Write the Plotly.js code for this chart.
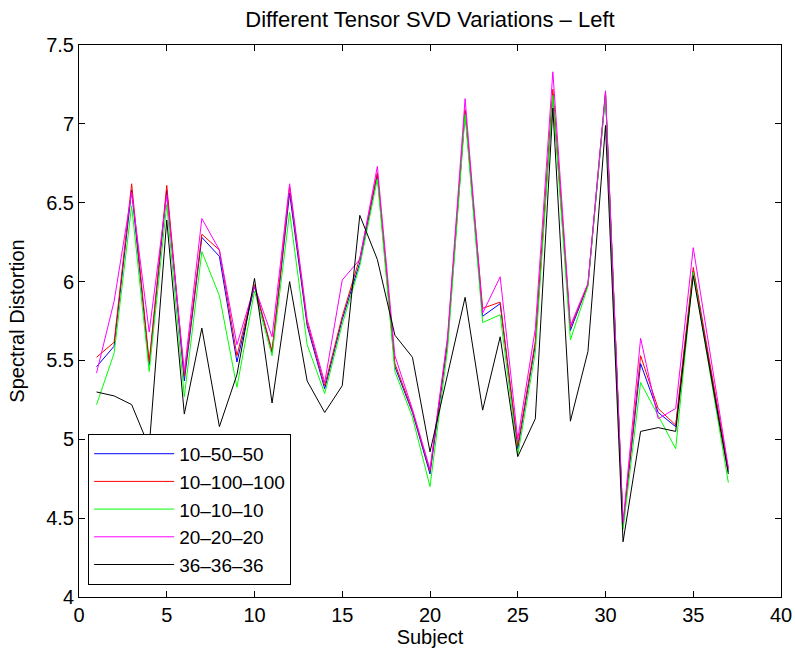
<!DOCTYPE html>
<html>
<head>
<meta charset="utf-8">
<script src="https://cdn.plot.ly/plotly-3.0.1.min.js"></script>
<style>html,body{margin:0;padding:0;background:#fff;}#chart{width:795px;height:655px;}</style>
</head>
<body>
<div id="chart"></div>
<script>
const subjects = [1,2,3,4,5,6,7,8,9,10,11,12,13,14,15,16,17,18,19,20,21,22,23,24,25,26,27,28,29,30,31,32,33,34,35,36,37];

const s10_50_50 = [5.46,5.59,6.58,5.47,6.58,5.37,6.28,6.16,5.49,5.97,5.55,6.56,5.72,5.32,5.76,6.12,6.68,5.46,5.17,4.78,5.61,7.08,5.78,5.86,4.94,5.60,7.19,5.69,5.98,7.19,4.45,5.48,5.17,5.08,6.065,5.43,4.795];
const s10_100_100 = [5.52,5.615,6.62,5.49,6.61,5.40,6.30,6.20,5.53,5.98,5.56,6.60,5.74,5.34,5.78,6.15,6.69,5.48,5.18,4.80,5.63,7.09,5.83,5.87,4.96,5.62,7.22,5.71,5.98,7.20,4.46,5.53,5.195,5.09,6.09,5.45,4.81];
const s10_10_10 = [5.22,5.545,6.48,5.43,6.49,5.27,6.19,5.91,5.33,5.94,5.53,6.44,5.60,5.29,5.73,6.10,6.65,5.43,5.14,4.70,5.57,7.06,5.74,5.79,4.90,5.55,7.18,5.63,5.97,7.18,4.43,5.36,5.15,4.94,6.06,5.39,4.725];
const s20_20_20 = [5.42,5.875,6.565,5.68,6.55,5.43,6.40,6.20,5.60,5.97,5.65,6.62,5.76,5.36,6.01,6.14,6.73,5.53,5.19,4.81,5.65,7.16,5.80,6.03,5.00,5.70,7.33,5.72,5.99,7.21,4.47,5.64,5.13,5.195,6.215,5.52,4.82];
const s36_36_36 = [5.30,5.275,5.22,4.95,6.39,5.16,5.705,5.08,5.41,6.02,5.23,6.00,5.37,5.17,5.34,6.42,6.14,5.66,5.52,4.92,5.41,5.90,5.185,5.65,4.89,5.13,7.10,5.115,5.557,6.99,4.35,5.05,5.074,5.05,6.037,5.41,4.78];

const seriesNames = ['10\u201350\u201350','10\u2013100\u2013100','10\u201310\u201310','20\u201320\u201320','36\u201336\u201336'];
const seriesData = [s10_50_50, s10_100_100, s10_10_10, s20_20_20, s36_36_36];
const seriesColors = ['#0000ff','#ff0000','#00ff00','#ff00ff','#000000'];

const traces = seriesData.map((ys, i) => ({
  x: subjects,
  y: ys,
  type: 'scatter',
  mode: 'lines',
  name: seriesNames[i],
  line: {color: seriesColors[i], width: 1}
}));

const font = 'Liberation Sans, Arial, Helvetica, sans-serif';
const layout = {
  width: 795,
  height: 655,
  margin: {l: 79, r: 14, t: 45, b: 58},
  paper_bgcolor: '#ffffff',
  plot_bgcolor: '#ffffff',
  font: {family: font, color: '#000000', size: 20},
  title: {
    text: 'Different Tensor SVD Variations \u2013 Left',
    font: {family: font, size: 22, color: '#000'},
    xref: 'paper', x: 0.5, xanchor: 'center',
    yref: 'container', y: 1 - 19/655, yanchor: 'middle'
  },
  xaxis: {
    range: [0, 40],
    tickvals: [0,5,10,15,20,25,30,35,40],
    ticks: 'inside', ticklen: 6, tickwidth: 1, tickcolor: '#000',
    showline: true, linecolor: '#000', linewidth: 1, mirror: 'allticks',
    showgrid: false, zeroline: false,
    tickfont: {family: font, size: 20},
    title: {text: 'Subject', font: {family: font, size: 20}, standoff: 2}
  },
  yaxis: {
    range: [4, 7.5],
    tickvals: [4,4.5,5,5.5,6,6.5,7,7.5],
    ticktext: ['4','4.5','5','5.5','6','6.5','7','7.5'],
    ticks: 'inside', ticklen: 6, tickwidth: 1, tickcolor: '#000',
    showline: true, linecolor: '#000', linewidth: 1, mirror: 'allticks',
    showgrid: false, zeroline: false,
    tickfont: {family: font, size: 20},
    title: {text: 'Spectral Distortion', font: {family: font, size: 20}, standoff: 16}
  },
  showlegend: true,
  legend: {
    x: 0.013, y: 0.022, xanchor: 'left', yanchor: 'bottom',
    bgcolor: '#ffffff', bordercolor: '#000', borderwidth: 1,
    font: {family: font, size: 19},
    itemwidth: 80,
    tracegroupgap: 0
  }
};

Plotly.newPlot('chart', traces, layout, {displayModeBar: false, staticPlot: true});
</script>
</body>
</html>
